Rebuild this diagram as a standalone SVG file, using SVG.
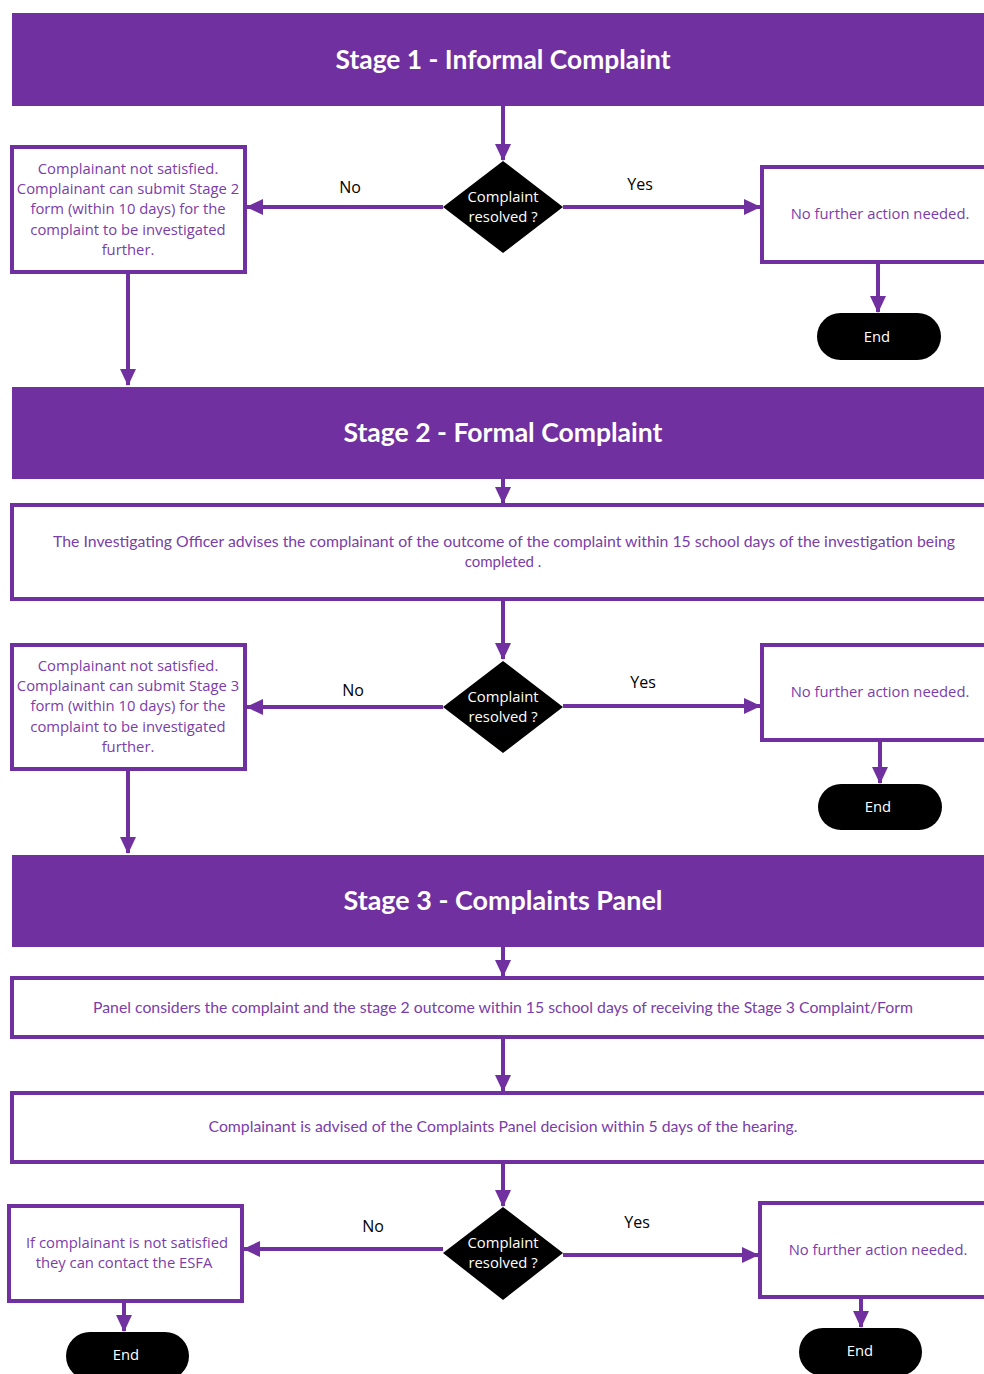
<svg xmlns="http://www.w3.org/2000/svg" width="984" height="1374" viewBox="0 0 984 1374">
<style>
.hdr{fill:#7030A0;}
.htxt{font-family:Lato,"Open Sans",sans-serif;font-weight:bold;font-size:26px;fill:#ffffff;text-anchor:middle;}
.box{fill:#ffffff;stroke:#7030A0;stroke-width:4;}
.btxt{font-family:"Open Sans","Noto Sans",sans-serif;font-size:14.8px;fill:#7A3DAA;text-anchor:middle;}
.ltxt{font-family:Lato,"Open Sans",sans-serif;font-size:15px;fill:#7A3DAA;text-anchor:middle;}
.dia{fill:#000000;}
.dtxt{font-family:"Open Sans","Noto Sans",sans-serif;font-size:14.8px;fill:#ffffff;text-anchor:middle;}
.lbl{font-family:"Open Sans","Noto Sans",sans-serif;font-size:16px;fill:#000000;text-anchor:middle;}
.con{fill:none;stroke:#7030A0;stroke-width:4;marker-end:url(#ah);}
</style>
<defs>
<marker id="ah" markerUnits="userSpaceOnUse" markerWidth="18" markerHeight="18" viewBox="0 0 18 18" refX="16" refY="9" orient="auto">
<path d="M0,1 L17,9 L0,17 Z" fill="#7030A0"/>
</marker>
</defs>
<rect width="984" height="1374" fill="#ffffff"/>

<g id="connectors">
<path class="con" d="M503,106 V160"/>
<path class="con" d="M443,207 H247"/>
<path class="con" d="M563,207 H760"/>
<path class="con" d="M878,262 V312"/>
<path class="con" d="M128,272 V385"/>
<path class="con" d="M503,479 V503"/>
<path class="con" d="M503,599 V659"/>
<path class="con" d="M443,707 H247"/>
<path class="con" d="M563,706 H760"/>
<path class="con" d="M880,740 V783"/>
<path class="con" d="M128,769 V853"/>
<path class="con" d="M503,947 V976"/>
<path class="con" d="M503,1037 V1091"/>
<path class="con" d="M503,1162 V1206"/>
<path class="con" d="M443,1249 H244"/>
<path class="con" d="M563,1255 H758"/>
<path class="con" d="M861,1297 V1327"/>
<path class="con" d="M124,1301 V1331"/>
<text class="lbl" x="350" y="193">No</text>
<text class="lbl" x="640" y="190">Yes</text>
<text class="lbl" x="353" y="696">No</text>
<text class="lbl" x="643" y="688">Yes</text>
<text class="lbl" x="373" y="1232">No</text>
<text class="lbl" x="637" y="1228">Yes</text>
</g>

<g id="stage1">
<rect class="hdr" x="12" y="13" width="980" height="93"/>
<text class="htxt" x="503" y="69" textLength="335" lengthAdjust="spacingAndGlyphs">Stage 1 - Informal Complaint</text>
</g>

<g id="s1-decision">
<path class="dia" d="M503,161 L563,207 L503,253 L443,207 Z"/>
<text class="dtxt" x="503" y="202">Complaint</text>
<text class="dtxt" x="503" y="222">resolved ?</text>
</g>

<g id="s1-no">
<rect class="box" x="12" y="147" width="233" height="125"/>
<text class="btxt" x="128" y="174">Complainant not satisfied.</text>
<text class="btxt" x="128" y="194">Complainant can submit Stage 2</text>
<text class="btxt" x="128" y="214">form (within 10 days) for the</text>
<text class="btxt" x="128" y="235">complaint to be investigated</text>
<text class="btxt" x="128" y="255">further.</text>
</g>

<g id="s1-yes">
<rect class="box" x="762" y="167" width="232" height="95"/>
<text class="btxt" x="880" y="219">No further action needed.</text>
</g>

<g id="s1-end">
<rect x="817" y="313" width="124" height="47" rx="23.5" fill="#000000"/>
<text class="dtxt" x="877" y="342">End</text>
</g>

<g id="stage2">
<rect class="hdr" x="12" y="387" width="980" height="92"/>
<text class="htxt" x="503" y="442" textLength="319" lengthAdjust="spacingAndGlyphs">Stage 2 - Formal Complaint</text>
</g>

<g id="s2-officer">
<rect class="box" x="12" y="505" width="982" height="94"/>
<text class="ltxt" x="504" y="547" textLength="902" lengthAdjust="spacingAndGlyphs">The Investigating Officer advises the complainant of the outcome of the complaint within 15 school days of the investigation being</text>
<text class="ltxt" x="503" y="567">completed .</text>
</g>

<g id="s2-decision">
<path class="dia" d="M503,661 L563,707 L503,753 L443,707 Z"/>
<text class="dtxt" x="503" y="702">Complaint</text>
<text class="dtxt" x="503" y="722">resolved ?</text>
</g>

<g id="s2-no">
<rect class="box" x="12" y="645" width="233" height="124"/>
<text class="btxt" x="128" y="671">Complainant not satisfied.</text>
<text class="btxt" x="128" y="691">Complainant can submit Stage 3</text>
<text class="btxt" x="128" y="711">form (within 10 days) for the</text>
<text class="btxt" x="128" y="732">complaint to be investigated</text>
<text class="btxt" x="128" y="752">further.</text>
</g>

<g id="s2-yes">
<rect class="box" x="762" y="645" width="232" height="95"/>
<text class="btxt" x="880" y="697">No further action needed.</text>
</g>

<g id="s2-end">
<rect x="818" y="784" width="124" height="46" rx="23" fill="#000000"/>
<text class="dtxt" x="878" y="812">End</text>
</g>

<g id="stage3">
<rect class="hdr" x="12" y="855" width="980" height="92"/>
<text class="htxt" x="503" y="910" textLength="319" lengthAdjust="spacingAndGlyphs">Stage 3 -  Complaints Panel</text>
</g>

<g id="s3-panel">
<rect class="box" x="12" y="978" width="982" height="59"/>
<text class="ltxt" x="503" y="1013" textLength="820" lengthAdjust="spacingAndGlyphs">Panel considers the complaint and the stage 2 outcome within 15 school days of receiving the Stage 3 Complaint/Form</text>
</g>

<g id="s3-advised">
<rect class="box" x="12" y="1093" width="982" height="69"/>
<text class="ltxt" x="503" y="1132" textLength="589" lengthAdjust="spacingAndGlyphs">Complainant is advised of the Complaints Panel decision within 5 days of the hearing.</text>
</g>

<g id="s3-decision">
<path class="dia" d="M503,1207 L563,1253 L503,1300 L443,1253 Z"/>
<text class="dtxt" x="503" y="1248">Complaint</text>
<text class="dtxt" x="503" y="1268">resolved ?</text>
</g>

<g id="s3-no">
<rect class="box" x="9" y="1206" width="233" height="95"/>
<text class="btxt" x="127" y="1248">If complainant is not satisfied</text>
<text class="btxt" x="124" y="1268">they can contact  the ESFA</text>
</g>

<g id="s3-no-end">
<rect x="66" y="1332" width="123" height="48" rx="24" fill="#000000"/>
<text class="dtxt" x="126" y="1360">End</text>
</g>

<g id="s3-yes">
<rect class="box" x="760" y="1203" width="234" height="94"/>
<text class="btxt" x="878" y="1255">No further action needed.</text>
</g>

<g id="s3-yes-end">
<rect x="799" y="1328" width="123" height="48" rx="24" fill="#000000"/>
<text class="dtxt" x="860" y="1356">End</text>
</g>
</svg>
